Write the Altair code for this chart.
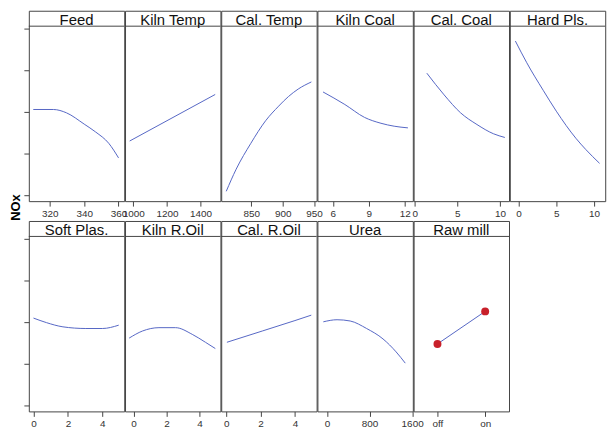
import altair as alt
import pandas as pd

# ---- data ----
feed_x = [310.4, 322.1, 329.7, 340, 346.7, 354.3, 360]
feed_y = [2.05, 2.05, 1.97, 1.70, 1.51, 1.24, 0.89]

kiln_temp_x = [978.7, 1486.9]
kiln_temp_y = [1.295, 2.41]

cal_temp_x = [810, 825.8, 849.2, 872.7, 893.5, 909.1, 924.7, 945.6]
cal_temp_y = [0.09, 0.62, 1.24, 1.78, 2.13, 2.36, 2.54, 2.71]

kiln_coal_x = [5.18, 7.0, 8.65, 10.02, 11.12, 12.27]
kiln_coal_y = [2.47, 2.17, 1.86, 1.72, 1.65, 1.61]

cal_coal_x = [1.43, 3.46, 5.39, 7.31, 9.23, 10.58]
cal_coal_y = [2.92, 2.40, 1.97, 1.69, 1.47, 1.38]

hard_x = [-0.43, 1.08, 3.26, 5.0, 7.6, 8.92, 10.74]
hard_y = [3.69, 3.17, 2.51, 2.01, 1.36, 1.09, 0.76]

soft_x = [0, 0.76, 1.71, 3.04, 4.0, 4.95]
soft_y = [2.09, 1.98, 1.88, 1.84, 1.84, 1.92]

kiln_oil_x = [-0.27, 0.54, 1.54, 2.55, 3.56, 4.36, 4.96]
kiln_oil_y = [1.61, 1.78, 1.86, 1.86, 1.70, 1.51, 1.36]

cal_oil_x = [0.04, 2.1, 4.0, 4.95]
cal_oil_y = [1.51, 1.78, 2.03, 2.16]

urea_x = [-68, 190, 436, 745, 1053, 1299, 1471]
urea_y = [2.00, 2.05, 2.02, 1.84, 1.59, 1.28, 1.01]

raw_x = ["off", "on"]
raw_y = [1.47, 2.25]

titles = ["Feed", "Kiln Temp", "Cal. Temp", "Kiln Coal", "Cal. Coal", "Hard Pls.",
          "Soft Plas.", "Kiln R.Oil", "Cal. R.Oil", "Urea", "Raw mill"]
x_domains = [[307.8, 363.3], [951, 1518], [802, 954], [4.71, 12.68], [-0.12, 11.07],
             [-1.17, 11.49], [-0.27, 5.27], [-0.52, 5.27], [-0.29, 5.26], [-179, 1613]]
x_ticks = [[320, 340, 360], [1000, 1200, 1400], [850, 900, 950], [6, 9, 12], [0, 5, 10],
           [0, 5, 10], [0, 2, 4], [0, 2, 4], [0, 2, 4], [0, 800, 1600]]
y_ticks = [0, 1, 2, 3, 4]

Y_DOMAIN = [-0.146, 4.416]
HEADER_Y = 4.046
TITLE_Y = 4.085
W, H = 96.2, 192
LINE = "#5566C4"
FRAME = "#444444"


def x_axis(ticks, nominal=False):
    kw = dict(tickSize=5, labelPadding=2, labelFontSize=10, labelColor="#333333",
              tickColor=FRAME, domain=False, grid=False, title=None,
              labelOverlap=False, labelFlush=False, labelAngle=0)
    if not nominal:
        kw["values"] = ticks
        kw["format"] = "d"
    return alt.Axis(**kw)


def y_axis(first):
    if not first:
        return None
    return alt.Axis(values=y_ticks, labels=False, domain=False, tickSize=5,
                    tickColor=FRAME, grid=False, title=None)


def y_enc(field, first):
    return alt.Y(field, scale=alt.Scale(domain=Y_DOMAIN, nice=False, zero=False),
                 axis=y_axis(first))


def header(title, first):
    hdr = pd.DataFrame({"y": [HEADER_Y], "t": [title], "ty": [TITLE_Y]})
    rule = alt.Chart(hdr).mark_rule(color=FRAME, strokeWidth=1).encode(y=y_enc("y:Q", first))
    txt = alt.Chart(hdr).mark_text(fontSize=15, color="#111111", baseline="alphabetic",
                                   align="center").encode(
        x=alt.value(W / 2), y=y_enc("ty:Q", first), text="t:N")
    return rule, txt


def panel(i, xs, ys, first):
    df = pd.DataFrame({"x": xs, "y": ys})
    line = alt.Chart(df).mark_line(color=LINE, strokeWidth=1, interpolate="monotone").encode(
        x=alt.X("x:Q", scale=alt.Scale(domain=x_domains[i], nice=False, zero=False),
                axis=x_axis(x_ticks[i])),
        y=y_enc("y:Q", first))
    rule, txt = header(titles[i], first)
    return alt.layer(line, rule, txt).properties(width=W, height=H)


def raw_panel():
    df = pd.DataFrame({"x": raw_x, "y": raw_y})
    xenc = alt.X("x:N", scale=alt.Scale(type="point", padding=0.5, domain=raw_x),
                 axis=x_axis(None, nominal=True), sort=raw_x)
    line = alt.Chart(df).mark_line(color=LINE, strokeWidth=1).encode(x=xenc, y=y_enc("y:Q", False))
    pts = alt.Chart(df).mark_circle(color="#C8202A", size=64, opacity=1).encode(
        x=xenc, y=y_enc("y:Q", False))
    rule, txt = header(titles[10], False)
    return alt.layer(line, pts, rule, txt).properties(width=W, height=H)


all_data = [(feed_x, feed_y), (kiln_temp_x, kiln_temp_y), (cal_temp_x, cal_temp_y),
            (kiln_coal_x, kiln_coal_y), (cal_coal_x, cal_coal_y), (hard_x, hard_y),
            (soft_x, soft_y), (kiln_oil_x, kiln_oil_y), (cal_oil_x, cal_oil_y),
            (urea_x, urea_y)]

panels = [panel(i, xs, ys, i in (0, 6)) for i, (xs, ys) in enumerate(all_data)] + [raw_panel()]

chart = alt.concat(*panels, columns=6, spacing={"row": 20, "column": 0}, bounds="flush",
                   title=alt.TitleParams("NOx", orient="left", anchor="middle", fontSize=13,
                                         fontWeight="bold", font="Liberation Sans",
                                         color="#000000", offset=0, dx=12)
                   ).properties(padding={"left": 2, "top": 0, "right": 0, "bottom": 0}
                   ).configure(font="Liberation Sans"
                   ).configure_view(stroke=FRAME, strokeWidth=1)

chart.save("out.html", embed_options={"renderer": "svg", "actions": False})
